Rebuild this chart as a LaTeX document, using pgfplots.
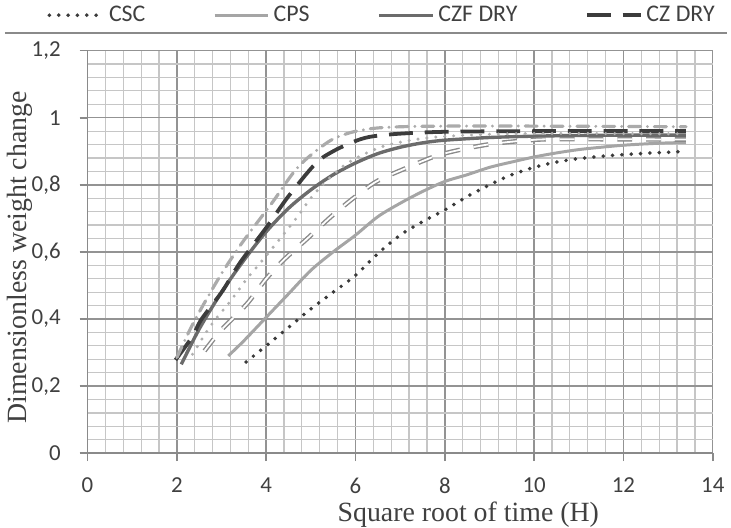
\documentclass[border=0pt]{standalone}
\usepackage{pgfplots}
\pgfplotsset{compat=1.18}
\usepackage{fontspec}
\setmainfont{Liberation Serif}
\newfontfamily\calib{Carlito}
\definecolor{axisgray}{HTML}{8A8A8A}
\definecolor{majgray}{HTML}{939393}
\definecolor{mingray}{HTML}{C6C6C6}
\definecolor{labgray}{HTML}{404040}
\definecolor{cscc}{HTML}{3A3A3A}
\definecolor{cpsc}{HTML}{A5A5A5}
\definecolor{czfc}{HTML}{6B6B6B}
\definecolor{czc}{HTML}{3C3C3C}
\definecolor{ldot}{HTML}{B0B0B0}
\definecolor{lhol}{HTML}{8A8A8A}
\definecolor{ldd}{HTML}{ABABAB}
\begin{document}
\begin{tikzpicture}
\begin{axis}[
  scale only axis, width=314.5pt, height=202.5pt,
  xmin=0, xmax=14, ymin=0, ymax=1.2,
  clip=false,
  axis lines=left,
  axis line style={-, draw=axisgray, line width=0.8pt},
  xtick={0,2,4,6,8,10,12,14},
  ytick={0,0.2,0.4,0.6,0.8,1,1.2},
  minor x tick num=4, minor y tick num=4,
  grid=both,
  major grid style={draw=majgray, line width=0.7pt},
  minor grid style={draw=mingray, line width=0.6pt},
  tick align=outside, major tick length=4pt, minor tick length=0pt,
  tick style={draw=axisgray, line width=0.8pt},
  ticklabel style={font=\calib\fontsize{11.5}{13}\selectfont, text=labgray},
  /pgf/number format/assume math mode=true,
  /pgf/number format/use comma,
  yticklabel style={xshift=-6pt},
  xticklabel style={yshift=-5pt},
  xlabel={Square root of time (H)},
  ylabel={Dimensionless weight change},
  label style={font=\fontsize{14}{16}\selectfont, text=labgray, inner sep=0pt},
  xlabel style={at={(axis description cs:0.609,-0.152)}, anchor=center},
  ylabel style={at={(axis description cs:-0.108,0.486)}, anchor=center},
  legend columns=4,
  legend style={at={(axis description cs:-0.068,1.088)}, anchor=west, draw=none, fill=none,
    font=\calib\fontsize{12}{14}\selectfont, text=labgray, inner sep=1pt,
    /tikz/every even column/.append style={column sep=32pt}},
  legend image code/.code={\draw[#1] (0pt,0pt) -- (27pt,0pt);},
]
% CSC
\addplot[cscc, line width=2pt, line cap=round, dash pattern=on 0pt off 4.7pt, smooth] coordinates {
(3.55,0.272)(4.0,0.32)(4.5,0.375)(5.0,0.43)(5.5,0.48)(6.0,0.53)(6.5,0.595)(7.0,0.65)(7.5,0.69)(8.0,0.725)(8.5,0.765)(9.0,0.8)(9.5,0.83)(10.0,0.852)(10.5,0.868)(11.0,0.878)(11.5,0.885)(12.0,0.89)(12.5,0.894)(13.0,0.897)(13.35,0.9)};
\addlegendentry{CSC}
% CPS
\addplot[cpsc, line width=1.5pt, smooth] coordinates {
(3.15,0.29)(3.5,0.335)(4.0,0.405)(4.5,0.475)(5.0,0.545)(5.5,0.6)(6.0,0.65)(6.5,0.705)(7.0,0.745)(7.5,0.78)(8.0,0.81)(8.5,0.83)(9.0,0.852)(9.5,0.868)(10.0,0.883)(10.5,0.895)(11.0,0.905)(11.5,0.912)(12.0,0.918)(12.5,0.922)(13.0,0.925)(13.4,0.926)};
\addlegendentry{CPS}
% CZF DRY
\addplot[czfc, line width=1.7pt, smooth] coordinates {
(2.1,0.265)(2.5,0.37)(3.0,0.48)(3.5,0.575)(4.0,0.66)(4.5,0.73)(5.0,0.785)(5.5,0.83)(6.0,0.865)(6.5,0.893)(7.0,0.912)(7.5,0.925)(8.0,0.933)(9.0,0.941)(10.0,0.945)(11.0,0.947)(12.0,0.948)(13.4,0.948)};
\addlegendentry{CZF DRY}
% CZ DRY
\addplot[czc, line width=1.9pt, dash pattern=on 12pt off 6pt, smooth] coordinates {
(1.97,0.278)(2.34,0.346)(2.53,0.395)(2.83,0.449)(3.05,0.489)(3.42,0.569)(4.0,0.672)(4.5,0.766)(5.11,0.864)(5.5,0.9)(5.95,0.928)(6.32,0.943)(6.95,0.952)(8.0,0.958)(10.0,0.96)(13.4,0.96)};
\addlegendentry{CZ DRY}
% light dash-dot
\addplot[ldd, line width=1.6pt, line cap=round, dash pattern=on 6pt off 3.5pt on 0pt off 3.5pt, smooth, forget plot] coordinates {
(2.0,0.285)(2.3,0.37)(2.6,0.444)(3.0,0.535)(3.46,0.627)(4.13,0.746)(4.72,0.854)(5.39,0.928)(5.87,0.955)(6.39,0.968)(7.0,0.973)(8.0,0.975)(10.0,0.975)(13.4,0.973)};
% light dotted
\addplot[ldot, line width=1.7pt, line cap=round, dash pattern=on 0pt off 4.5pt, smooth, forget plot] coordinates {
(2.35,0.295)(2.68,0.365)(2.9,0.405)(3.12,0.44)(3.35,0.48)(3.57,0.52)(3.98,0.585)(4.65,0.696)(5.09,0.775)(5.76,0.859)(6.58,0.913)(7.5,0.938)(8.5,0.948)(10.0,0.953)(13.4,0.952)};
% light hollow dashed
\addplot[lhol, line width=0.7pt, double=white, double distance=0.9pt, dash pattern=on 7.5pt off 7pt, smooth, forget plot] coordinates {
(2.62,0.305)(2.83,0.341)(3.05,0.375)(3.24,0.4)(3.6,0.45)(4.0,0.52)(4.4,0.577)(4.94,0.642)(5.46,0.706)(5.95,0.76)(6.47,0.81)(7.1,0.848)(7.8,0.886)(8.43,0.907)(9.06,0.922)(9.8,0.932)(10.5,0.936)(13.4,0.935)};
\draw[axisgray, line width=1pt] (rel axis cs:-0.132,1.044) -- (rel axis cs:1.0223,1.044);
\path (rel axis cs:-0.14,-0.1728) rectangle (rel axis cs:1.0223,1.1235);
\end{axis}
\end{tikzpicture}
\end{document}
